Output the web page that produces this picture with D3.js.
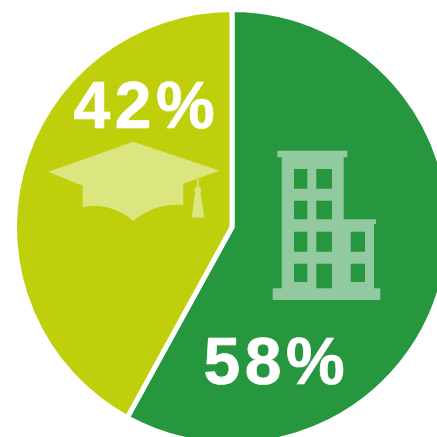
<!DOCTYPE html>
<html>
<head>
<meta charset="utf-8">
<script src="https://cdn.jsdelivr.net/npm/d3@7"></script>
<style>
html,body{margin:0;padding:0;background:#fff;overflow:hidden}
svg{display:block}
text{font-family:"Liberation Sans",Arial,sans-serif;font-weight:700;fill:#fff;stroke:#fff;stroke-width:.7px;letter-spacing:4.6px}
</style>
</head>
<body>
<svg id="chart" width="437" height="437"></svg>
<script>
// Share of each group, clockwise from twelve o'clock
const categories = ["Building", "Graduation"];
const shares = [58, 42];
const sliceColors = ["#26963f", "#bfcf0c"];
const shareLabels = ["58%", "42%"];

const svg = d3.select("#chart");
const cx = 232, cy = 227, radius = 217.5;

const pie = d3.pie().value(d => d).sort(null);
const arc = d3.arc().innerRadius(0).outerRadius(radius);
const color = d3.scaleOrdinal(categories, sliceColors);

svg.append("g")
  .attr("transform", `translate(${cx},${cy})`)
  .selectAll("path")
  .data(pie(shares))
  .join("path")
  .attr("d", arc)
  .attr("fill", (d, i) => color(categories[i]))
  .attr("stroke", "#fff")
  .attr("stroke-width", 5)
  .attr("stroke-linejoin", "miter");

// Mortarboard icon on the lime slice
const cap = svg.append("g").attr("fill", "#dce681");
cap.append("path").attr("d",
  "M133.3,141.7 L220,170.7 L183.3,183.5 L183.3,205 C163,203 146,210 133.3,221 C121,210 103,203 82.7,207.3 L82.7,185.7 L48.3,171.7 Z");
cap.append("rect").attr("x", 197).attr("y", 179).attr("width", 1.6).attr("height", 9);
cap.append("circle").attr("cx", 197.8).attr("cy", 190).attr("r", 3.4);
cap.append("path").attr("d", "M195,193 L200.6,193 L204.3,217.5 L191.7,217.5 Z");

// Office building icon on the green slice, windows cut out with even-odd fill
const rectPath = (x0, y0, x1, y1) => `M${x0},${y0}H${x1}V${y1}H${x0}Z`;
const windowCols = [[294, 307.3], [316.3, 332], [350.7, 365]];
const windowRows = [[169, 188.7], [200.7, 219.3], [231.7, 251.7], [263.7, 282]];
let windows = "";
windowRows.forEach((row, r) => windowCols.forEach((col, c) => {
  if (c === 2 && r < 2) return;
  const bottom = (c === 1 && r === 3) ? 288.3 : row[1];
  windows += rectPath(col[0], row[0], col[1], bottom);
}));
svg.append("path")
  .attr("fill", "#93c99f")
  .attr("fill-rule", "evenodd")
  .attr("d",
    "M277.3,150.7H347.3V157.3H343.7V219.3H376V224H374V288.3H380.3V300H272.7V288.3H281.7V157.3H277.3Z" + windows);

// Percentage labels
const labelAnchors = [[203.5, 383.5], [73.5, 127.5]];
svg.selectAll("text")
  .data(shareLabels)
  .join("text")
  .attr("x", (d, i) => labelAnchors[i][0])
  .attr("y", (d, i) => labelAnchors[i][1])
  .attr("font-size", 66)
  .text(d => d);
</script>
</body>
</html>
